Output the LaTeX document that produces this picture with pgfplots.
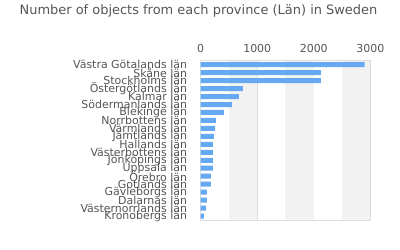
\documentclass[border=0pt]{standalone}
\usepackage{pgfplots}
\pgfplotsset{compat=1.18}
\usepackage{fontspec}
\setmainfont{DejaVu Sans}
\definecolor{barblue}{HTML}{64A9F1}
\definecolor{band}{HTML}{F2F2F2}
\definecolor{gridc}{HTML}{DDDDDD}
\definecolor{txt}{HTML}{555555}
\begin{document}
\begin{tikzpicture}
\path[use as bounding box] (-200.7bp,-30bp) rectangle (199.3bp,220bp);
\node[text=txt, font=\fontsize{13}{15}\selectfont] at (-2.2bp,209bp) {Number of objects from each province (Län) in Sweden};
\begin{axis}[
  at={(0,0)}, anchor=south west,
  scale only axis, width=169.6bp, height=159.3bp,
  xbar, bar width=5bp,
  xmin=0, xmax=3000,
  ymin=-0.5, ymax=19.5, y dir=reverse,
  ytick={0,...,19},
  yticklabels={Västra Götalands län,Skåne län,Stockholms län,Östergötlands län,Kalmar län,Södermanlands län,Blekinge län,Norrbottens län,Värmlands län,Jämtlands län,Hallands län,Västerbottens län,Jönköpings län,Uppsala län,Örebro län,Gotlands län,Gävleborgs län,Dalarnas län,Västernorrlands län,Kronobergs län},
  xtick={0,1000,2000,3000},
  minor xtick={500,1500,2500},
  xticklabel pos=upper,
  major tick length=0pt, minor tick length=0pt,
  xmajorgrids, xminorgrids,
  major grid style={gridc, line width=0.8bp},
  minor grid style={gridc, line width=0.8bp},
  axis line style={gridc, line width=1bp},
  /pgf/number format/assume math mode=true,
  /pgf/number format/1000 sep={},
  xticklabel style={font=\fontsize{11}{13}\selectfont, text=txt, inner sep=0pt, anchor=south, yshift=7.5bp},
  yticklabel style={font=\fontsize{11}{8}\selectfont, text=txt, inner sep=0pt, anchor=east, xshift=-13.5bp},
  axis on top=false,
  clip=true,
]
\fill[band] (axis cs:500,-0.5) rectangle (axis cs:1000,19.5);
\fill[band] (axis cs:1500,-0.5) rectangle (axis cs:2000,19.5);
\fill[band] (axis cs:2500,-0.5) rectangle (axis cs:3000,19.5);
\addplot[barblue, fill=barblue, draw=none] coordinates {
(2900,0) (2125,1) (2125,2) (747,3) (677,4) (553,5) (412,6) (270,7) (253,8) (235,9)
(217,10) (217,11) (217,12) (217,13) (182,14) (182,15) (111,16) (111,17) (94,18) (58,19)
};
\end{axis}
\end{tikzpicture}
\end{document}
